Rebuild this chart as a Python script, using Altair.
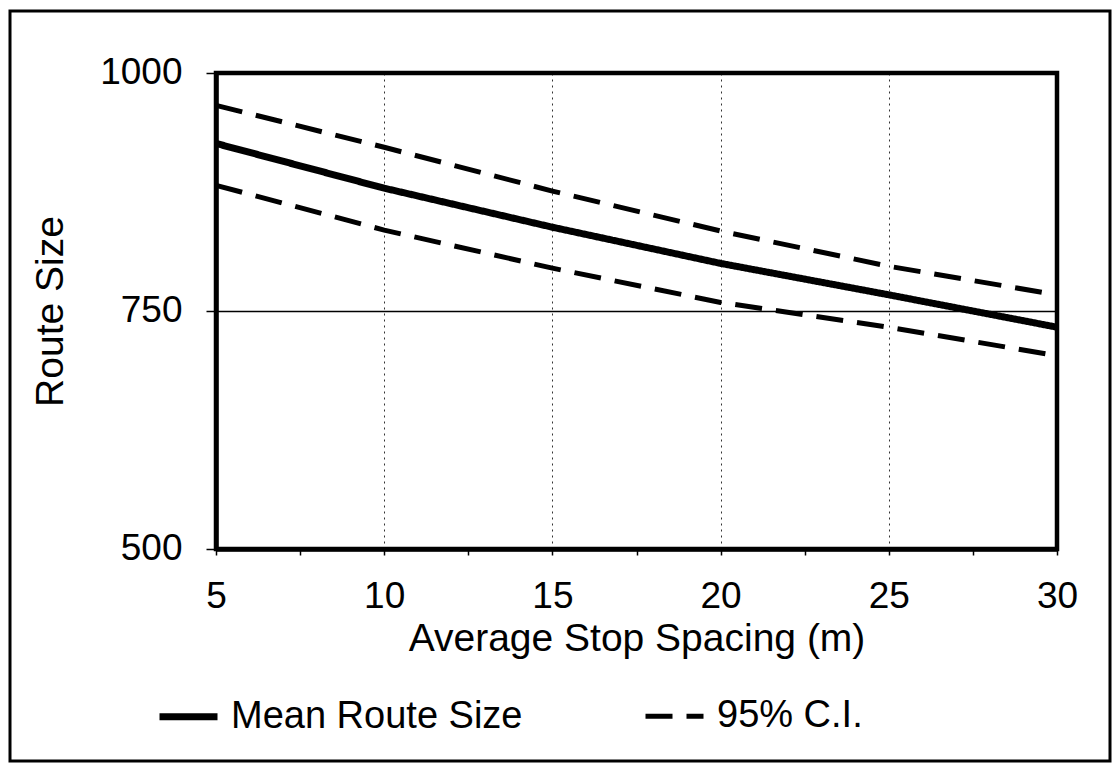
import altair as alt
import pandas as pd

# Route size versus average stop spacing, with 95% confidence band
spacing = [5, 10, 15, 20, 25, 30]
mean_size = [926, 879, 838, 800, 767, 733]
ci_upper = [966, 922, 876, 834, 797, 767]
ci_lower = [882, 835, 795, 759, 733, 703]

kinds = ["Mean Route Size", "95% C.I."]
x_ticks = [5, 7.5, 10, 12.5, 15, 17.5, 20, 22.5, 25, 27.5, 30]
y_ticks = [500, 750, 1000]

rows = []
for series, kind, values in [
    ("mean", kinds[0], mean_size),
    ("upper", kinds[1], ci_upper),
    ("lower", kinds[1], ci_lower),
]:
    for x, v in zip(spacing, values):
        rows.append({"spacing": x, "size": v, "series": series, "kind": kind})
df = pd.DataFrame(rows)

FONT = "Liberation Sans"
PLOT_W, PLOT_H = 841, 476

legend = alt.Legend(
    title=None,
    orient="none",
    legendX=-60,
    legendY=611,
    direction="horizontal",
    columns=2,
    columnPadding=112,
    symbolType="stroke",
    symbolSize=3364,
    symbolStrokeColor="black",
    labelFont=FONT,
    labelFontSize=38,
    labelColor="black",
    labelOffset=10,
    labelLimit=0,
)

lines = alt.Chart(df).mark_line(color="black").encode(
    x=alt.X(
        "spacing:Q",
        scale=alt.Scale(domain=[5, 30], nice=False),
        axis=alt.Axis(
            values=x_ticks,
            labelExpr="datum.value % 5 == 0 ? datum.label : ''",
            labelFlush=False,
            title="Average Stop Spacing (m)",
            titleY=101,
            titleBaseline="alphabetic",
            titleFontSize=39,
            tickSize=6,
            labelPadding=52,
            labelBaseline="alphabetic",
            labelFontSize=37,
            grid=True,
            gridColor="black",
            gridWidth=1,
            gridDash=[2, 4],
            gridOpacity=alt.condition("datum.value % 5 == 0", alt.value(0.8), alt.value(0)),
        ),
    ),
    y=alt.Y(
        "size:Q",
        scale=alt.Scale(domain=[500, 1000], nice=False),
        axis=alt.Axis(
            values=y_ticks,
            format="d",
            labelFlush=False,
            title="Route Size",
            titleX=-154,
            titleY=PLOT_H / 2,
            titleAngle=270,
            titleAlign="center",
            titleBaseline="alphabetic",
            titleFontSize=39,
            tickSize=10,
            labelPadding=24,
            labelBaseline="alphabetic",
            labelOffset=10,
            labelFontSize=37,
            grid=True,
            gridColor="black",
            gridWidth=1.5,
        ),
    ),
    detail="series:N",
    strokeDash=alt.StrokeDash(
        "kind:N",
        scale=alt.Scale(domain=kinds, range=[[1, 0], [27, 14]]),
        legend=legend,
    ),
    strokeWidth=alt.StrokeWidth(
        "kind:N",
        scale=alt.Scale(domain=kinds, range=[7, 5]),
        legend=legend,
    ),
)

# frame drawn around the whole figure
frame = alt.Chart(pd.DataFrame({"frame": ["outer"]})).mark_rect(
    filled=False, stroke="black", strokeWidth=3
).encode(
    x=alt.value(-206),
    x2=alt.value(894),
    y=alt.value(-62),
    y2=alt.value(688),
)

chart = (
    alt.layer(frame, lines)
    .properties(
        width=PLOT_W,
        height=PLOT_H,
        autosize=alt.AutoSizeParams(type="none"),
        padding={"left": 216, "top": 73, "right": 56, "bottom": 214},
        background="white",
    )
    .configure_view(stroke="black", strokeWidth=4.5)
    .configure_axis(
        domainColor="black",
        domainWidth=4.5,
        tickColor="black",
        tickWidth=1.5,
        labelColor="black",
        titleColor="black",
        labelFont=FONT,
        titleFont=FONT,
        titleFontWeight="normal",
    )
)

chart.save("out.html", embed_options={"renderer": "svg", "actions": False})
